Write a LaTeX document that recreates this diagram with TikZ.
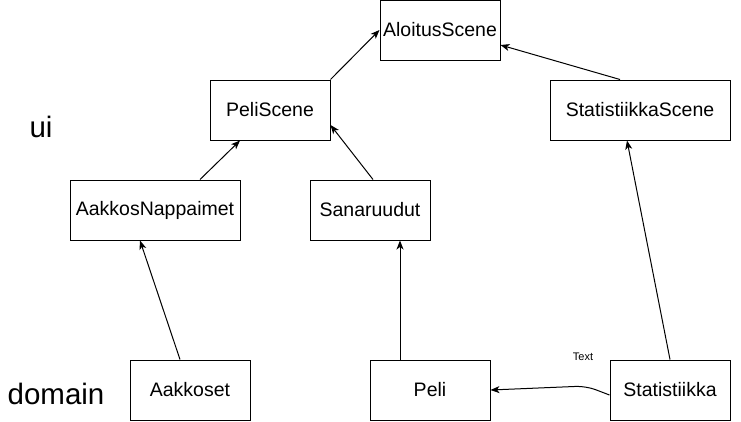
\documentclass[tikz,border=0pt]{standalone}
\usepackage{fontspec}
\setmainfont{Liberation Sans}
\usetikzlibrary{arrows.meta}
\begin{document}
\begin{tikzpicture}[x=1pt,y=-1pt,
  box/.style={draw=black,line width=1pt,inner sep=0pt,minimum height=60pt,font=\fontsize{19.5}{22}\selectfont,fill=white},
  arr/.style={draw=black,line width=1pt,-{Stealth[length=9pt,width=7pt,inset=2.5pt]}},
  layer/.style={font=\fontsize{29.5}{33}\selectfont,inner sep=0pt}]
\useasboundingbox (0,0) rectangle (741,421);
\node[box,minimum width=120pt] (aloitus) at (440,30) {AloitusScene};
\node[box,minimum width=120pt] (pelis) at (270,110) {PeliScene};
\node[box,minimum width=180pt] (stats) at (640,110) {StatistiikkaScene};
\node[box,minimum width=170pt] (aakn) at (155,210) {AakkosNappaimet};
\node[box,minimum width=120pt] (sana) at (370,210) {Sanaruudut};
\node[box,minimum width=120pt] (aakkoset) at (190,390) {Aakkoset};
\node[box,minimum width=120pt] (peli) at (430,390) {Peli};
\node[box,minimum width=120pt] (stat) at (670,390) {Statistiikka};
\node[layer] (ui) at (41,127) {ui};
\node[layer] (domain) at (56,394) {domain};
\node[inner sep=0pt,font=\fontsize{11}{13}\selectfont] (txt) at (583,357) {Text};
\coordinate (bend) at (586,386);
\draw[arr] (pelis.north east) -- (aloitus.west);
\draw[arr] ([xshift=-20pt]stats.north) -- ([yshift=-15pt]aloitus.east);
\draw[arr] ([xshift=45pt]aakn.north) -- ([xshift=-30pt]pelis.south);
\draw[arr] ([xshift=3pt]sana.north) -- ([yshift=-15pt]pelis.east);
\draw[arr] ([xshift=-10pt]aakkoset.north) -- ([xshift=-15pt]aakn.south);
\draw[arr] ([xshift=-30pt]peli.north) -- ([xshift=30pt]sana.south);
\draw[arr] (stat.north) -- ([xshift=-13pt]stats.south);
\draw[arr,rounded corners=10pt] ([yshift=-5pt]stat.west) -- (bend) -- (peli.east);
\end{tikzpicture}
\end{document}
